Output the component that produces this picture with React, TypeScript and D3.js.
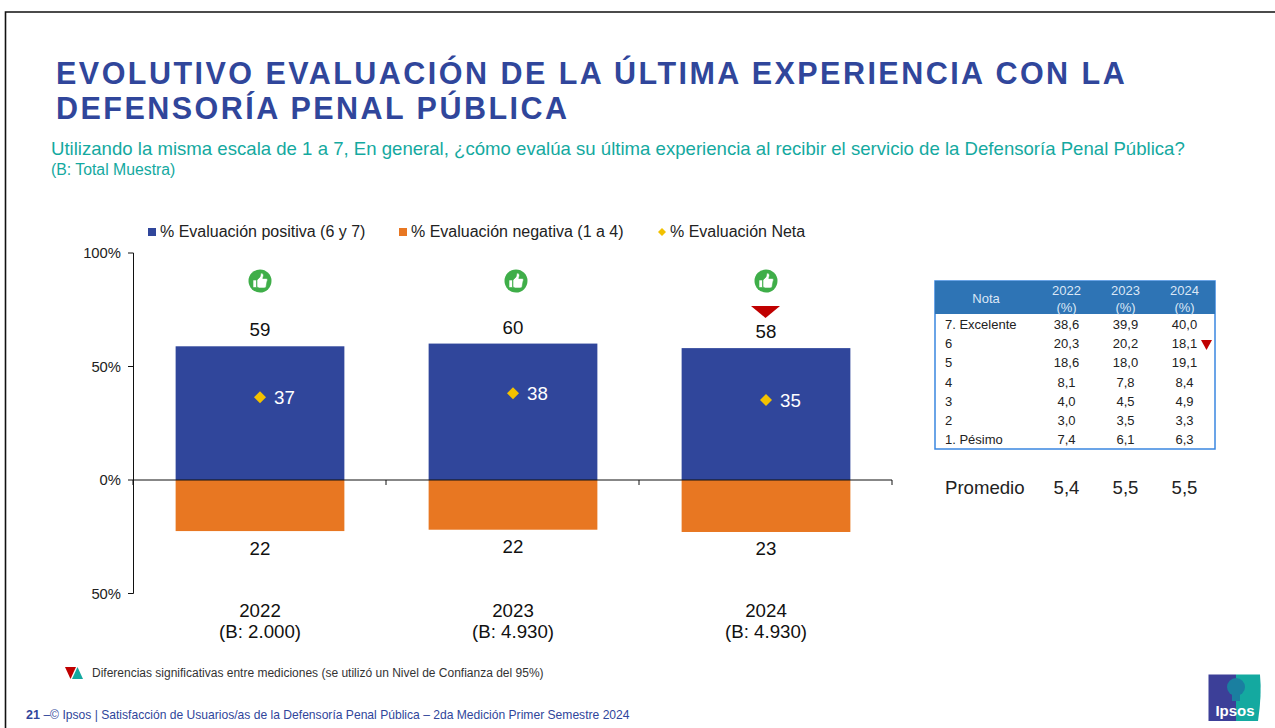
import React from "react";
import * as d3 from "d3";

const years = ["2022", "2023", "2024"];
const bases = ["(B: 2.000)", "(B: 4.930)", "(B: 4.930)"];
const positive = [58.9, 60.1, 58.1];
const negative = [22.5, 21.9, 22.9];
const net = [36.4, 38.2, 35.2];
const positiveLabels = ["59", "60", "58"];
const negativeLabels = ["22", "22", "23"];
const netLabels = ["37", "38", "35"];
const yTicks = [100, 50, 0, -50];
const yTickLabels = ["100%", "50%", "0%", "50%"];
const notes = ["7. Excelente", "6", "5", "4", "3", "2", "1. Pésimo"];
const col2022 = ["38,6", "20,3", "18,6", "8,1", "4,0", "3,0", "7,4"];
const col2023 = ["39,9", "20,2", "18,0", "7,8", "4,5", "3,5", "6,1"];
const col2024 = ["40,0", "18,1", "19,1", "8,4", "4,9", "3,3", "6,3"];
const promedio = ["5,4", "5,5", "5,5"];

const BLUE = "#30469b";
const ORANGE = "#e87722";
const GOLD = "#f2c100";
const TEAL = "#14a9a0";
const RED = "#c00000";
const FONT = "Liberation Sans, Arial, sans-serif";

const y = d3.scaleLinear().domain([-50, 100]).range([593.5, 253]);
const x = d3.scaleBand<string>().domain(years).range([133.5, 892.5]).paddingInner(0.333).paddingOuter(0.1665);
const tickX = [133, 386, 639, 892];
const thumbOffset = [0, 3, 0];
const center = (yr: string) => (x(yr) as number) + x.bandwidth() / 2;

function Thumb({ cx, cy }: { cx: number; cy: number }) {
  return (
    <g transform={`translate(${cx},${cy})`}>
      <circle r={11.5} fill="#3fae49" />
      <path
        d="M-7,-1 h3.5 v7.5 h-3.5 z M-3,-1 L0,-4 L1,-8 Q3.5,-8.5 3.5,-5.5 L2.8,-2.5 H7 Q8,-1 7,0.5 L6,6 Q5.5,7 4,7 H-1 L-3,6 z"
        fill="#fff"
        stroke="#3fae49"
        strokeWidth={0.6}
      />
    </g>
  );
}

const colX = [1066.5, 1125.5, 1184.5];
const rowY = (i: number) => 324.5 + i * 19.2;

export default function App() {
  return (
    <svg
      width={1275}
      height={728}
      viewBox="0 0 1275 728"
      style={{ position: "absolute", left: 0, top: 0, background: "#fff" }}
      fontFamily={FONT}
    >
      <path d="M5.5,728 V12 H1275" fill="none" stroke="#111" strokeWidth={1.6} />

      <g fill={BLUE} fontWeight={700} fontSize={30.5} letterSpacing={2.47}>
        <text x={56} y={84}>EVOLUTIVO EVALUACIÓN DE LA ÚLTIMA EXPERIENCIA CON LA</text>
        <text x={56} y={119}>DEFENSORÍA PENAL PÚBLICA</text>
      </g>
      <text x={51} y={155} fill={TEAL} fontSize={18.6}>
        Utilizando la misma escala de 1 a 7, En general, ¿cómo evalúa su última experiencia al recibir el servicio de la Defensoría Penal Pública?
      </text>
      <text x={51} y={175} fill={TEAL} fontSize={15.8}>(B: Total Muestra)</text>

      {/* legend */}
      <g fontSize={16} fill="#222">
        <rect x={148} y={228} width={8} height={8} fill={BLUE} />
        <text x={160} y={237}>% Evaluación positiva (6 y 7)</text>
        <rect x={399} y={228} width={8} height={8} fill={ORANGE} />
        <text x={411} y={237}>% Evaluación negativa (1 a 4)</text>
        <path d="M662,228 l4,4 l-4,4 l-4,-4 z" fill={GOLD} />
        <text x={670} y={237}>% Evaluación Neta</text>
      </g>

      {/* bars */}
      {years.map((yr, i) => (
        <g key={yr}>
          <rect x={x(yr)} y={y(positive[i])} width={x.bandwidth()} height={y(0) - y(positive[i])} fill={BLUE} />
          <rect x={x(yr)} y={y(0)} width={x.bandwidth()} height={y(-negative[i]) - y(0)} fill={ORANGE} />
          <text x={center(yr)} y={y(positive[i]) - 10} textAnchor="middle" fontSize={18.7} fill="#111">{positiveLabels[i]}</text>
          <text x={center(yr)} y={y(-negative[i]) + 23.5} textAnchor="middle" fontSize={18.7} fill="#111">{negativeLabels[i]}</text>
          <path d={`M${center(yr)},${y(net[i]) - 6} l6,6 l-6,6 l-6,-6 z`} fill={GOLD} />
          <text x={center(yr) + 14} y={y(net[i]) + 6.5} fontSize={18.7} fill="#fff">{netLabels[i]}</text>
          <Thumb cx={center(yr) + thumbOffset[i]} cy={281} />
          <text x={center(yr)} y={617} textAnchor="middle" fontSize={18.7} fill="#111">{yr}</text>
          <text x={center(yr)} y={638} textAnchor="middle" fontSize={18.7} fill="#111">{bases[i]}</text>
        </g>
      ))}
      <path d={`M${center("2024") - 15},306 h29 l-14.5,12 z`} fill={RED} />

      {/* axes */}
      <line x1={133.5} x2={133.5} y1={y(100)} y2={y(-50)} stroke="#111" strokeWidth={1} />
      {yTicks.map((t, i) => (
        <g key={i}>
          <line x1={128} x2={133.5} y1={y(t)} y2={y(t)} stroke="#111" strokeWidth={1} />
          <text x={121} y={y(t) + 5} textAnchor="end" fontSize={14.8} fill="#222">{yTickLabels[i]}</text>
        </g>
      ))}
      <line x1={133} x2={892} y1={y(0)} y2={y(0)} stroke="#111" strokeWidth={1} />
      {tickX.map((tx) => (
        <line key={tx} x1={tx} x2={tx} y1={y(0)} y2={y(0) + 5} stroke="#111" strokeWidth={1} />
      ))}

      {/* table */}
      <rect x={935} y={281} width={280} height={168} fill="#fff" stroke="#3a86e0" strokeWidth={1.5} />
      <rect x={935} y={281} width={280} height={33} fill="#2e74b5" />
      <g fontSize={13} fill="#dbe7f5" textAnchor="middle">
        <text x={986} y={303}>Nota</text>
        {years.map((yr, i) => (
          <g key={yr}>
            <text x={colX[i]} y={295}>{yr}</text>
            <text x={colX[i]} y={312}>(%)</text>
          </g>
        ))}
      </g>
      <g fontSize={13} fill="#222">
        {notes.map((n, i) => (
          <g key={n}>
            <text x={945} y={rowY(i) + 4.5}>{n}</text>
            <text x={colX[0]} y={rowY(i) + 4.5} textAnchor="middle">{col2022[i]}</text>
            <text x={colX[1]} y={rowY(i) + 4.5} textAnchor="middle">{col2023[i]}</text>
            <text x={colX[2]} y={rowY(i) + 4.5} textAnchor="middle">{col2024[i]}</text>
          </g>
        ))}
      </g>
      <path d="M1201,340 h11 l-5.5,10 z" fill={RED} />

      <g fontSize={18.6} fill="#222">
        <text x={945} y={494}>Promedio</text>
        {promedio.map((p, i) => (
          <text key={i} x={colX[i]} y={494} textAnchor="middle">{p}</text>
        ))}
      </g>

      {/* footnotes */}
      <path d="M65,667 h11 l-5.5,12 z" fill={RED} />
      <path d="M72,679 h11 l-5.5,-12 z" fill={TEAL} />
      <text x={92} y={677} fontSize={12} fill="#333">Diferencias significativas entre mediciones (se utilizó un Nivel de Confianza del 95%)</text>
      <text x={26} y={719} fontSize={12.1} fill={BLUE}>
        <tspan fontWeight={700} fontSize={12.5}>21 </tspan>
        <tspan>–© Ipsos | Satisfacción de Usuarios/as de la Defensoría Penal Pública – 2da Medición Primer Semestre 2024</tspan>
      </text>

      {/* logo */}
      <path d="M1208.5,674.5 H1236 V721 H1208.5 z" fill="#3c3f98" />
      <path d="M1236,674.5 H1260 Q1262,695 1258,721 H1236 z" fill={TEAL} />
      <circle cx={1236} cy={687} r={9} fill="#1a7fa0" />
      <rect x={1232} y={694} width={8} height={7} fill="#1a7fa0" />
      <text x={1235} y={716} textAnchor="middle" fontSize={15} fontWeight={700} fill="#fff">Ipsos</text>
    </svg>
  );
}
